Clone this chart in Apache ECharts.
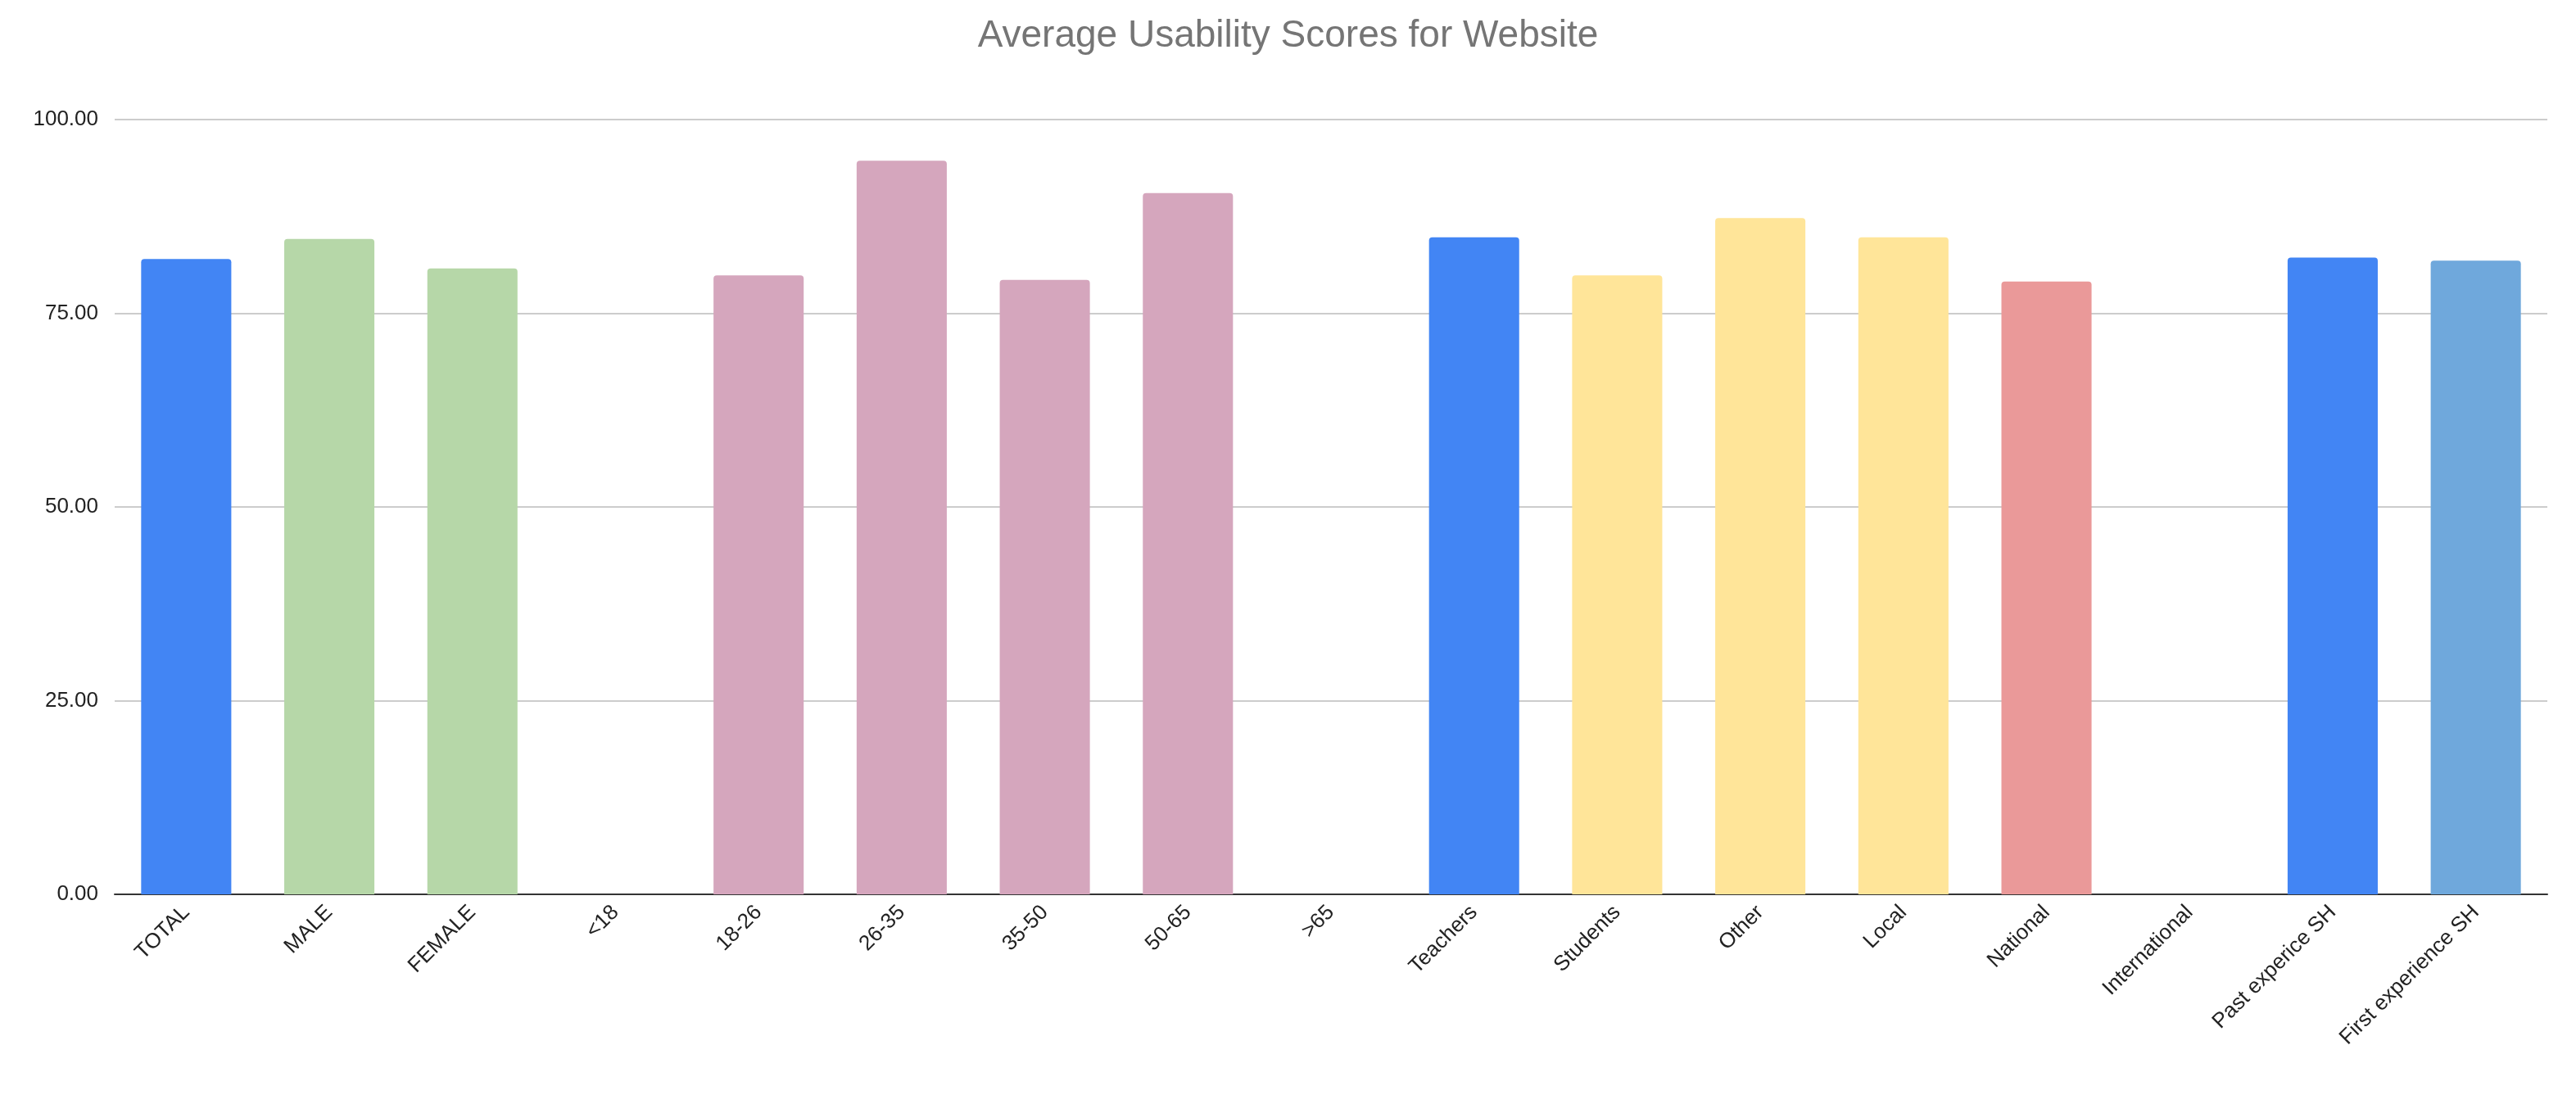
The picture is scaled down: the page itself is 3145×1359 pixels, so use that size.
<!DOCTYPE html>
<html>
<head>
<meta charset="utf-8">
<script src="https://cdn.jsdelivr.net/npm/echarts@6/dist/echarts.min.js"></script>
<style>html,body{margin:0;padding:0;background:#fff}#chart{width:3145px;height:1359px}</style>
</head>
<body>
<div id="chart"></div>
<script>
var categories = ['TOTAL', 'MALE', 'FEMALE', '<18', '18-26', '26-35', '35-50', '50-65', '>65',
    'Teachers', 'Students', 'Other', 'Local', 'National', 'International',
    'Past experice SH', 'First experience SH'];
var scores = [82.0, 84.6, 80.8, null, 79.9, 94.7, 79.3, 90.5, null,
    84.8, 79.9, 87.3, 84.8, 79.1, null, 82.2, 81.8];
var barColors = ['#4285F4', '#B6D7A8', '#B6D7A8', '#D5A6BD', '#D5A6BD', '#D5A6BD', '#D5A6BD', '#D5A6BD', '#D5A6BD',
    '#4285F4', '#FFE599', '#FFE599', '#FFE599', '#EA9999', '#EA9999', '#4285F4', '#6FA8DC'];

var chart = echarts.init(document.getElementById('chart'));
chart.setOption({
    backgroundColor: '#fff',
    title: {
        text: 'Average Usability Scores for Website',
        left: 'center',
        top: 16,
        textStyle: { fontFamily: 'Arial, Liberation Sans', fontSize: 46, fontWeight: 'normal', color: '#757575' }
    },
    grid: { left: 140, right: 35, top: 146, bottom: 267 },
    xAxis: {
        type: 'category',
        data: categories,
        axisTick: { show: false },
        axisLine: { lineStyle: { color: '#333', width: 2 } },
        axisLabel: {
            rotate: 45, interval: 0, fontSize: 26, color: '#222', margin: 18,
            fontFamily: 'Arial, Liberation Sans'
        }
    },
    yAxis: {
        type: 'value',
        min: 0, max: 100, interval: 25,
        axisLine: { show: false },
        axisTick: { show: false },
        splitLine: { lineStyle: { color: '#ccc', width: 2 } },
        axisLabel: {
            fontSize: 26, color: '#222', margin: 20, fontFamily: 'Arial, Liberation Sans',
            formatter: function (v) { return v.toFixed(2); }
        }
    },
    series: [{
        type: 'bar',
        barWidth: '63%',
        data: scores.map(function (v, i) {
            return { value: v, itemStyle: { color: barColors[i], borderRadius: [4, 4, 0, 0] } };
        })
    }]
});
</script>
</body>
</html>
